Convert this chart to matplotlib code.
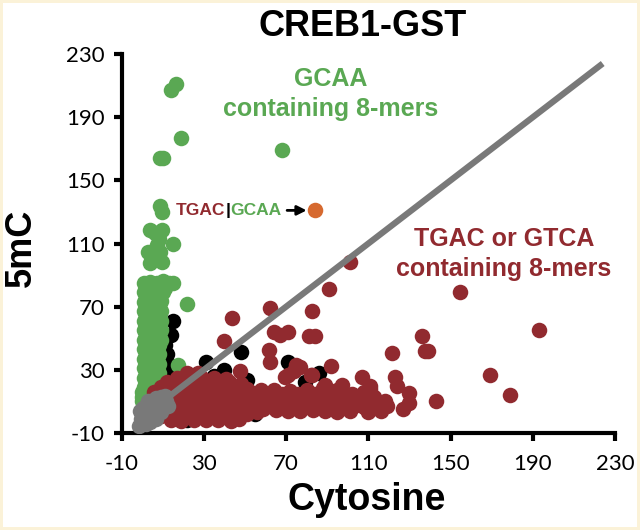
import matplotlib
matplotlib.use("Agg")
from matplotlib import pyplot as plt

# ---- data (Cytosine vs 5mC signal) ----
ticks = [-10, 30, 70, 110, 150, 190, 230]

black_x = [8, 15, 11, 48, 31, 40, 71, 86, 12, 16, 25, 29, 51, 68, 79, 40, 45, 22, 12, 13, 14, 55, 35]
black_y = [76, 61, 46, 41.5, 35, 30, 35, 28, 29, 25, 22, 20, 23.5, 14, 22.5, 1.5, 0, -2, 40, 33, 52, 2, 26]

green_x = [
    14, 16.5, 19, 8.5, 10, 68, 8.7, 9.6, 4, 6.3, 9.6, 8, 7, 15, 3, 8.7, 4, 9.6, 22, 17.5, 15,
    1, 4, 7, 10, 13, 2, 5, 8, 11, 1, 4, 7, 10, 2, 5, 8, 1, 4, 7, 9, 2, 5, 8,
    1, 4, 7, 9, 2, 5, 8, 1, 4, 7, 9, 2, 5, 8, 1, 4, 7, 9, 2, 5, 8, 1, 4, 7, 9,
    2, 5, 8, 1, 4, 7, 2, 5, 8, 1, 4, 7, 2, 5, 8, 1, 4, 7, 2, 5, 8, 1, 4, 7,
    2, 5, 1, 4, 0, 3, 0, 2, 0,
]
green_y = [
    207.5, 211, 177, 164, 164, 169.5, 134, 130, 118.5, 116.5, 118.5, 113, 109, 110, 104.5, 104.5, 97.5, 98.5, 72, 33, 85,
    85, 85.5, 85, 86, 85, 82, 82, 82.5, 82, 79, 79, 79.5, 79, 76, 76, 76, 73, 73, 73, 73.5, 70, 70, 70,
    67, 67, 67, 67, 64, 64, 64, 61, 61, 61, 61, 58, 58, 58, 55, 55, 55, 55, 52, 52, 52, 49, 49, 49, 49,
    46, 46, 46, 43, 43, 43, 40, 40, 40, 37, 37, 37, 34, 34, 34, 31, 31, 31, 28, 28, 28, 25, 25, 25,
    22, 22, 19, 19, 16, 16, 13, 13, 10,
]

red_x = [
    # outliers
    101, 91, 154.5, 82.5, 62, 43.5, 81, 84, 136, 137.5, 139, 121.5, 193, 92, 82.5, 169, 179,
    107, 123, 124, 130, 143, 127, 130, 67, 71, 64, 61.5, 62, 40, 47.5, 75, 71, 74, 77, 69.5,
    82, 82.5, 111, 110, 118, 89, 97,
    # dense band
    14, 19, 25, 31, 37, 43, 47,
    9, 15, 21, 27, 33, 39, 45, 51, 56,
    11, 17, 23, 29, 35, 41, 47, 53, 59, 65, 71, 77, 83, 89, 95, 101, 110, 116,
    13, 19, 25, 31, 37, 43, 49, 55, 61, 67, 73, 79, 85, 91, 97, 103, 108, 114, 119,
    8, 15, 21, 27, 33, 39, 45, 51, 57, 63, 69, 75, 81, 87, 93, 99, 105, 112, 118,
    7, 13, 19, 25, 31, 37, 43, 49, 55, 61, 67, 73, 80, 86, 92, 98, 106, 113,
    6, 12, 18, 24, 30, 36, 42, 48, 54, 60, 64, 68, 72, 76, 80, 84, 90, 96, 102, 108,
    9, 15, 21, 27, 33, 39, 45, 51, 58, 88, 95, 111,
    12, 18, 24, 30, 36, 42, 48,
    17, 23, 29, 35, 41,
    22, 27,
]
red_y = [
    98, 81.5, 79.5, 67, 69, 63, 51.5, 51.5, 51.5, 42, 42, 40.5, 55, 32.5, 26.5, 27, 14,
    25.5, 25.5, 19.5, 15.5, 10.5, 5, 9, 52, 54, 54, 42.5, 35, 48, 29, 33, 26.5, 29, 32, 25.5,
    26.5, 12, 19.5, 15, 8, 20.5, 20.5,
    -2, -2.5, -2, -1.5, -2, -2.5, -1,
    1, 1.5, 1, 0.5, 1, 1.5, 1, 2, 3,
    4, 4, 4.5, 4, 4, 3.5, 4, 4.5, 5, 4.5, 4, 4, 4.5, 4, 3.5, 4, 3, 4,
    7, 7.5, 7, 7, 7.5, 7, 7, 7.5, 7, 7, 7.5, 7, 7, 7.5, 7, 7, 6.5, 7, 7,
    10, 10, 10.5, 10, 10, 10.5, 10, 10, 10.5, 10, 10, 10.5, 10, 10, 10.5, 10, 10, 10, 10.5,
    13, 13.5, 13, 13, 13.5, 13, 13, 13.5, 13, 13, 13.5, 13, 13, 13.5, 13, 13, 13.5, 13,
    16, 16, 16.5, 16, 16, 16.5, 16, 16, 15.5, 15, 17, 15, 16.5, 14.5, 17, 15, 15.5, 16, 15, 16,
    19, 19.5, 19, 19, 19.5, 19, 19, 18, 17, 18.5, 17.5, 18,
    22, 22.5, 22, 22, 22.5, 22, 21,
    25, 25.5, 25, 25, 24.5,
    28, 28,
]

gray_x = [0, 2, 4, -0.5, 1.5, 3.5, 5.5, 0, 2.5, 5, 7, 1, 3.5, 6, 8.5, 2.5, 5, 7.5, 10, 4.5, 7, 9.5, 11.5, 6.5, 9,
          -1.5, 6.5, -1, 11, 12.5, 3, 0.5, 9]
gray_y = [-4, -4, -3, -1, -1.5, -0.5, 0, 2, 2, 2.5, 3, 5, 5, 5.5, 6, 8, 8, 8.5, 8, 10.5, 11, 11, 10, 12, 12.5,
          -5.5, -1, 4, 13.5, 7, 10, 6, 3]

orange_x = [84]
orange_y = [131]

line_x = [0, 224]
line_y = [0, 224]

GREEN = "#5aa853"
RED = "#912a2f"
GRAY = "#797979"
ORANGE = "#d6692f"
FONT = ["Liberation Sans", "DejaVu Sans"]

fig = plt.figure(figsize=(6.4, 5.3), dpi=100)
fig.patch.set_edgecolor("#fbf2d8")
fig.patch.set_linewidth(4)
ax = fig.add_axes([0.19, 0.183, 0.771, 0.715])

ms = 125
ax.scatter(black_x, black_y, s=ms, color="black", lw=0, zorder=2)
ax.scatter(green_x, green_y, s=ms, color=GREEN, lw=0, zorder=3)
ax.scatter(red_x, red_y, s=ms, color=RED, lw=0, zorder=4)
ax.scatter(gray_x, gray_y, s=ms, color=GRAY, lw=0, zorder=5)
ax.plot(line_x, line_y, color=GRAY, lw=4.5, solid_capstyle="butt", zorder=6)
ax.scatter(orange_x, orange_y, s=ms, color=ORANGE, lw=0, zorder=7)

ax.set_xlim(-10, 230)
ax.set_ylim(-10, 230)
ax.set_xticks(ticks)
ax.set_yticks(ticks)
ax.set_xticklabels([str(t) for t in ticks])
ax.set_yticklabels([str(t) for t in ticks])
for s in ["top", "right"]:
    ax.spines[s].set_visible(False)
for s in ["left", "bottom"]:
    ax.spines[s].set_linewidth(3)
ax.tick_params(direction="out", length=6, width=3, labelsize=16)
ax.tick_params(axis="x", pad=9)
ax.tick_params(axis="y", pad=6)
for lab in ax.get_xticklabels() + ax.get_yticklabels():
    lab.set_family(["Lato", "DejaVu Sans"])

# labels
fig.text(0.567, 0.950, "CREB1-GST", ha="center", va="center", fontsize=26,
         fontweight="bold", family=FONT)
fig.text(0.573, 0.057, "Cytosine", ha="center", va="center", fontsize=27,
         fontweight="bold", family=FONT)
fig.text(0.034, 0.532, "5mC", ha="center", va="center", fontsize=26,
         fontweight="bold", family=FONT, rotation=90)

ax.text(91.5, 204.5, "GCAA\ncontaining 8-mers", ha="center", va="center",
        fontsize=18, fontweight="bold", color=GREEN, family=FONT, linespacing=1.3)
ax.text(176, 103.5, "TGAC or GTCA\ncontaining 8-mers", ha="center", va="center",
        fontsize=18, fontweight="bold", color=RED, family=FONT, linespacing=1.3)

# TGAC|GCAA -> orange point
t1 = ax.text(16.5, 131, "TGAC", ha="left", va="center", fontsize=12.5,
             fontweight="bold", color=RED, family=FONT)
t2 = ax.annotate("|", xy=(1, 0.5), xycoords=t1, va="center", ha="left",
                 fontsize=12.5, fontweight="bold", color="black", family=FONT)
t3 = ax.annotate("GCAA", xy=(1, 0.5), xycoords=t2, va="center", ha="left",
                 fontsize=12.5, fontweight="bold", color=GREEN, family=FONT)
ax.annotate("", xy=(80, 131), xytext=(70.5, 131),
            arrowprops=dict(arrowstyle="-|>", color="black", lw=2, mutation_scale=14,
                            shrinkA=0, shrinkB=0))

fig.savefig("out.png", dpi=100, edgecolor=fig.get_edgecolor())
